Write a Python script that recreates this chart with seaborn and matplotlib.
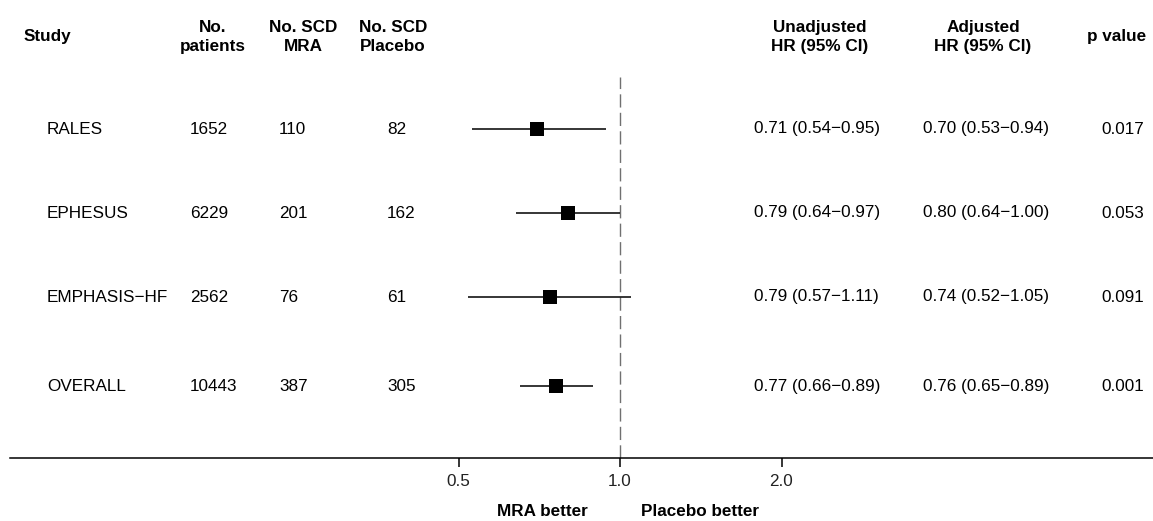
import matplotlib
matplotlib.use("Agg")
import matplotlib.pyplot as plt
import matplotlib.transforms as mtransforms
import seaborn as sns
import pandas as pd

# data
studies = ["RALES", "EPHESUS", "EMPHASIS−HF", "OVERALL"]
n_patients = [1652, 6229, 2562, 10443]
scd_mra = [110, 201, 76, 387]
scd_placebo = [82, 162, 61, 305]
unadj_hr = [0.71, 0.79, 0.79, 0.77]
unadj_lo = [0.54, 0.64, 0.57, 0.66]
unadj_hi = [0.95, 0.97, 1.11, 0.89]
adj_hr = [0.70, 0.80, 0.74, 0.76]
adj_lo = [0.53, 0.64, 0.52, 0.65]
adj_hi = [0.94, 1.00, 1.05, 0.89]
p_values = ["0.017", "0.053", "0.091", "0.001"]
x_ticks = [0.5, 1.0, 2.0]
x_tick_labels = ["0.5", "1.0", "2.0"]

sns.set_theme(style="white")
plt.rcParams["font.family"] = ["Liberation Sans", "DejaVu Sans"]

W, H = 1153, 521
fig = plt.figure(figsize=(W / 100, H / 100), dpi=100)
# axes: axis line at y=458 px, dashed line starts at y=77 px
ax = fig.add_axes([10 / W, (H - 458) / H, 1 - 10 / W, (458 - 77) / H])

row_y = [0, 1, 2, 3.06]  # small extra gap before the overall row
df = pd.DataFrame({"study": studies, "hr": adj_hr, "lo": adj_lo, "hi": adj_hi, "y": row_y})

ax.set_xscale("log", base=2)
ax.hlines(df["y"], df["lo"], df["hi"], color="black", lw=1.1)
sns.scatterplot(data=df, x="hr", y="y", marker="s", s=95, color="black",
                edgecolor="black", linewidth=0, ax=ax, zorder=3)
ax.axvline(1.0, color="#707070", lw=1.0, ls=(0, (9.5, 3.8)), zorder=1)

ax.set_xlim(2 ** ((10 - 620) / 161.5), 2 ** ((1153 - 620) / 161.5))
ax.set_ylim((458 - 129) / 84, (77 - 129) / 84)
ax.set_xticks(x_ticks)
ax.set_xticklabels(x_tick_labels)
ax.minorticks_off()
ax.set_yticks([])
ax.set_xlabel("")
ax.set_ylabel("")
for s in ["top", "left", "right"]:
    ax.spines[s].set_visible(False)
ax.spines["bottom"].set_color("black")
ax.spines["bottom"].set_linewidth(1.1)
ax.tick_params(axis="x", direction="out", length=6.5, width=1.1, color="black",
               pad=5, labelsize=12.3, labelcolor="#222222", bottom=True)
ax.grid(False)

fs = 12.3

def ftext(x, y, s, **kw):
    fig.text(x / W, 1 - y / H, s, fontsize=fs, color="black", linespacing=1.35, **kw)

# column headers
ftext(24, 37, "Study", ha="left", va="center", fontweight="bold")
ftext(213, 37, "No.\npatients", ha="center", va="center", fontweight="bold")
ftext(303, 37, "No. SCD\nMRA", ha="center", va="center", fontweight="bold")
ftext(393, 37, "No. SCD\nPlacebo", ha="center", va="center", fontweight="bold")
ftext(820, 37, "Unadjusted\nHR (95% CI)", ha="center", va="center", fontweight="bold")
ftext(983, 37, "Adjusted\nHR (95% CI)", ha="center", va="center", fontweight="bold")
ftext(1117, 37, "p value", ha="center", va="center", fontweight="bold")

# row text, x in figure pixels, y in data
trans = mtransforms.blended_transform_factory(fig.transFigure, ax.transData)

def rtext(x, y, s):
    ax.text(x / W, y, s, transform=trans, fontsize=fs, ha="left", va="center",
            color="black", clip_on=False)

for i in range(len(studies)):
    y = row_y[i]
    rtext(47, y, studies[i])
    rtext(190, y, str(n_patients[i]))
    rtext(279, y, str(scd_mra[i]))
    rtext(387, y, str(scd_placebo[i]))
    rtext(754, y, f"{unadj_hr[i]:.2f} ({unadj_lo[i]:.2f}−{unadj_hi[i]:.2f})")
    rtext(923, y, f"{adj_hr[i]:.2f} ({adj_lo[i]:.2f}−{adj_hi[i]:.2f})")
    rtext(1101, y, p_values[i])

ftext(588, 512, "MRA better", ha="right", va="center", fontweight="bold")
ftext(641, 512, "Placebo better", ha="left", va="center", fontweight="bold")

fig.savefig("out.png", dpi=100, facecolor="white")
